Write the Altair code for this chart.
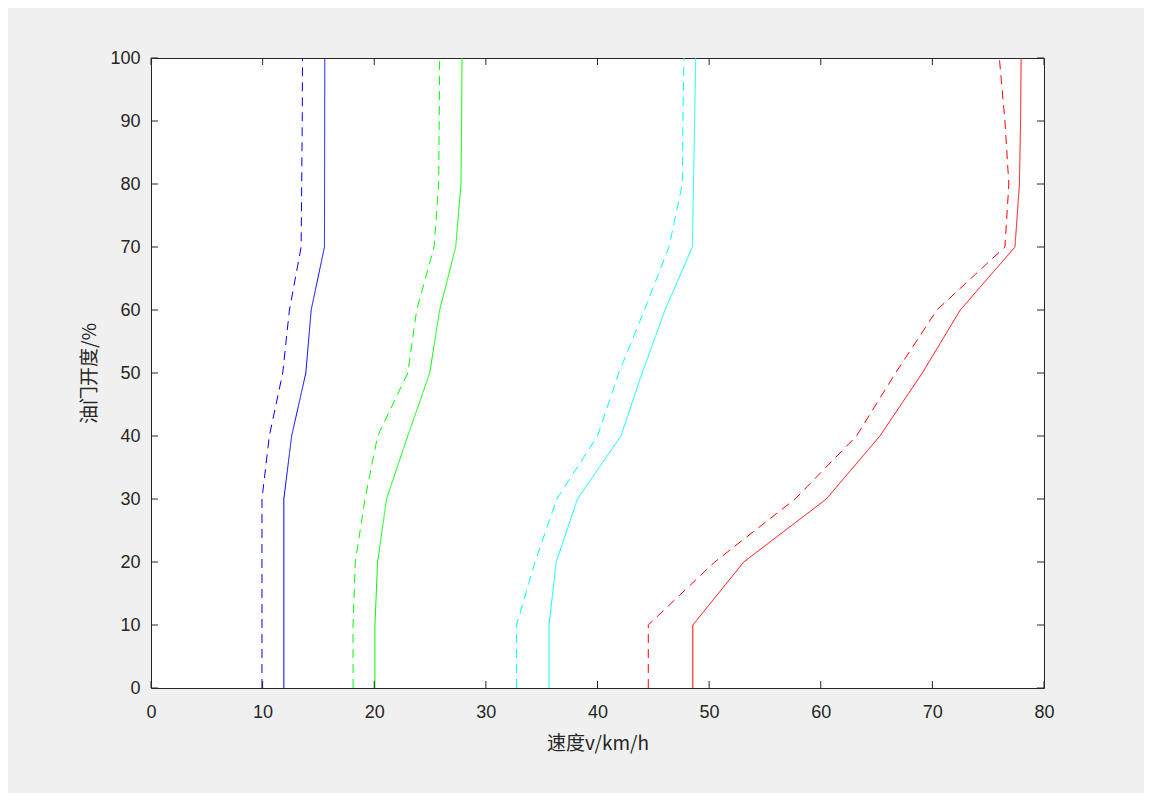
import altair as alt
import pandas as pd

throttle = [0, 10, 20, 30, 40, 50, 60, 70, 80, 90, 100]

blue_solid = [11.9, 11.9, 11.9, 11.9, 12.6, 13.87, 14.35, 15.54, 15.55, 15.56, 15.57]
blue_dashed = [9.94, 9.94, 9.94, 9.94, 10.6, 11.8, 12.4, 13.45, 13.5, 13.55, 13.57]
green_solid = [20.06, 20.06, 20.3, 21.1, 23.0, 24.97, 25.86, 27.3, 27.77, 27.83, 27.86]
green_dashed = [18.1, 18.1, 18.3, 19.17, 20.3, 23.0, 23.8, 25.36, 25.77, 25.82, 25.86]
cyan_solid = [35.66, 35.66, 36.3, 38.2, 42.1, 44.0, 46.05, 48.5, 48.6, 48.7, 48.8]
cyan_dashed = [32.75, 32.75, 34.4, 36.35, 40.0, 41.9, 44.2, 46.4, 47.6, 47.65, 47.75]
red_solid = [48.54, 48.54, 53.1, 60.5, 65.3, 69.1, 72.5, 77.4, 77.8, 77.9, 77.95]
red_dashed = [44.55, 44.55, 50.5, 57.7, 63.2, 66.7, 70.4, 76.5, 76.85, 76.5, 76.0]

series = {
    ("b", "solid"): blue_solid,
    ("b", "dashed"): blue_dashed,
    ("g", "solid"): green_solid,
    ("g", "dashed"): green_dashed,
    ("c", "solid"): cyan_solid,
    ("c", "dashed"): cyan_dashed,
    ("r", "solid"): red_solid,
    ("r", "dashed"): red_dashed,
}
color_domain = ["b", "g", "c", "r"]
color_range = ["#0000ff", "#00ff00", "#00ffff", "#ff0000"]

x_ticks = [0, 10, 20, 30, 40, 50, 60, 70, 80]
y_ticks = [0, 10, 20, 30, 40, 50, 60, 70, 80, 90, 100]

rows = []
for (col, style), vals in series.items():
    for t, v in zip(throttle, vals):
        rows.append({"v": v, "t": t, "col": col, "style": style, "key": col + style})
df = pd.DataFrame(rows)

W, H = 893, 630
TL = 7
FONT = "Liberation Sans"
AX = "#262626"

xscale = alt.Scale(domain=[0, 80], nice=False, zero=False)
yscale = alt.Scale(domain=[0, 100], nice=False, zero=False)

lines = alt.Chart(df).mark_line(strokeWidth=1, clip=True).encode(
    x=alt.X("v:Q", scale=xscale,
            axis=alt.Axis(values=x_ticks, title="速度v/km/h", labelPadding=15,
                          titlePadding=13, labelFlush=False)),
    y=alt.Y("t:Q", scale=yscale,
            axis=alt.Axis(values=y_ticks, title="油门开度/%", labelPadding=11,
                          titlePadding=10, labelFlush=False)),
    color=alt.Color("col:N", scale=alt.Scale(domain=color_domain, range=color_range), legend=None),
    strokeDash=alt.StrokeDash("style:N", scale=alt.Scale(domain=["solid", "dashed"],
                                                         range=[[1, 0], [9, 6]]), legend=None),
    detail="key:N",
    order=alt.Order("t:Q"),
)

xt = pd.DataFrame({"x": x_ticks})
yt = pd.DataFrame({"y": y_ticks})

xb = alt.Chart(xt).mark_rule(color=AX, strokeWidth=1).encode(
    x=alt.X("x:Q", scale=xscale), y=alt.value(H), y2=alt.value(H - TL))
xtop = alt.Chart(xt).mark_rule(color=AX, strokeWidth=1).encode(
    x=alt.X("x:Q", scale=xscale), y=alt.value(0), y2=alt.value(TL))
yl = alt.Chart(yt).mark_rule(color=AX, strokeWidth=1).encode(
    y=alt.Y("y:Q", scale=yscale), x=alt.value(0), x2=alt.value(TL))
yr = alt.Chart(yt).mark_rule(color=AX, strokeWidth=1).encode(
    y=alt.Y("y:Q", scale=yscale), x=alt.value(W), x2=alt.value(W - TL))

chart = alt.layer(lines, xb, xtop, yl, yr).properties(
    width=W, height=H,
    autosize=alt.AutoSizeParams(type="none"),
    padding={"left": 143, "top": 50, "right": 100, "bottom": 105},
    background="#f0f0f0",
).configure_view(
    fill="white", stroke=AX, strokeWidth=1
).configure_axis(
    domain=False, ticks=False, grid=False,
    labelFont=FONT, labelFontSize=18, labelColor=AX,
    titleFont="Noto Sans CJK SC", titleFontSize=19, titleColor=AX, titleFontWeight="normal",
)

chart.save("out.html", embed_options={"renderer": "svg", "actions": False})
